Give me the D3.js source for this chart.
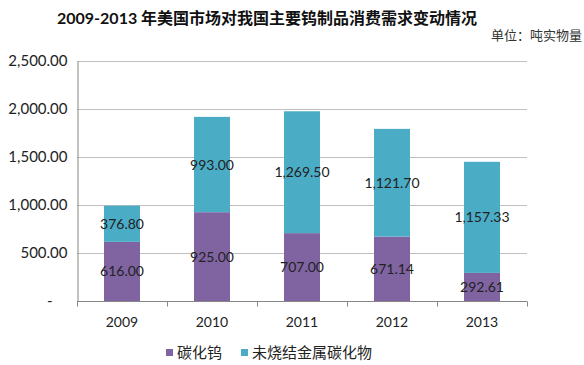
<!DOCTYPE html>
<html>
<head>
<meta charset="utf-8">
<script src="https://cdn.jsdelivr.net/npm/d3@7"></script>
<style>
  body { margin: 0; background: #fff; }
  text { font-family: Lato, "Noto Sans CJK SC", sans-serif; }
</style>
</head>
<body>
<div id="container"></div>
<script>
/* CONSTANTS AND GLOBALS */
const width = 584,
      height = 365,
      margin = {top: 61, bottom: 64, left: 77, right: 57};

// data
const years = ["2009", "2010", "2011", "2012", "2013"];
const tungstenCarbide = [616.00, 925.00, 707.00, 671.14, 292.61];
const unsinteredCarbide = [376.80, 993.00, 1269.50, 1121.70, 1157.33];
const seriesNames = ["碳化钨", "未烧结金属碳化物"];
const yTicks = [0, 500, 1000, 1500, 2000, 2500];
const colors = ["#8064A2", "#4BACC6"];

const svg = d3.select("#container")
  .append("svg")
  .attr("width", width)
  .attr("height", height);

// + SCALES
const xScale = d3.scaleBand()
  .domain(years)
  .range([margin.left, width - margin.right])
  .paddingInner(0.6)
  .paddingOuter(0.3);

const yScale = d3.scaleLinear()
  .domain([0, 2500])
  .range([height - margin.bottom, margin.top]);

// gridlines
svg.append("g")
  .selectAll("line")
  .data(yTicks.filter(d => d > 0))
  .join("line")
  .attr("x1", margin.left)
  .attr("x2", width - margin.right)
  .attr("y1", d => yScale(d) + 0.5)
  .attr("y2", d => yScale(d) + 0.5)
  .attr("stroke", "#bfbfbf");

// stacked data
const rows = years.map((y, i) => ({year: y, a: tungstenCarbide[i], b: unsinteredCarbide[i]}));
const stacked = d3.stack().keys(["a", "b"])(rows);

const layer = svg.append("g")
  .selectAll("g")
  .data(stacked)
  .join("g")
  .attr("fill", (d, i) => colors[i]);

layer.selectAll("rect")
  .data(d => d)
  .join("rect")
  .attr("x", d => xScale(d.data.year))
  .attr("width", xScale.bandwidth())
  .attr("y", d => yScale(d[1]))
  .attr("height", d => yScale(d[0]) - yScale(d[1]));

// data labels
const fmt = d3.format(",.2f");
svg.append("g")
  .selectAll("g")
  .data(stacked)
  .join("g")
  .selectAll("text")
  .data(d => d.map(v => ({v, key: d.key})))
  .join("text")
  .attr("x", d => xScale(d.v.data.year) + xScale.bandwidth() / 2)
  .attr("y", d => (yScale(d.v[0]) + yScale(d.v[1])) / 2 + 5)
  .attr("text-anchor", "middle")
  .attr("font-size", 14)
  .attr("fill", "#222")
  .text(d => fmt(d.v.data[d.key]));

// + AXES
const xAxis = d3.axisBottom(d3.scalePoint().domain(d3.range(6)).range([margin.left, width - margin.right]))
  .tickSize(5)
  .tickFormat("");

svg.append("g")
  .attr("transform", `translate(0, ${height - margin.bottom + 0.5})`)
  .call(xAxis)
  .call(g => g.select(".domain").attr("stroke", "#868686").attr("d", `M${margin.left},0H${width - margin.right}`))
  .call(g => g.selectAll(".tick line").attr("stroke", "#868686"));

svg.append("g")
  .selectAll("text")
  .data(years)
  .join("text")
  .attr("x", d => xScale(d) + xScale.bandwidth() / 2)
  .attr("y", height - margin.bottom + 26)
  .attr("text-anchor", "middle")
  .attr("font-size", 14)
  .attr("fill", "#222")
  .text(d => d);

const yAxis = d3.axisLeft(yScale)
  .tickValues(yTicks)
  .tickSize(0)
  .tickPadding(10)
  .tickFormat(d => d === 0 ? "-" : fmt(d));

svg.append("g")
  .attr("transform", `translate(${margin.left + 0.5}, 0)`)
  .call(yAxis)
  .call(g => g.select(".domain").attr("stroke", "#868686"))
  .call(g => g.selectAll(".tick text")
    .attr("font-size", 15)
    .attr("fill", "#222")
    .attr("font-family", "Lato, sans-serif")
    .attr("dx", d => d === 0 ? -15 : 0));

// title and unit
svg.append("text")
  .attr("x", 57)
  .attr("y", 24)
  .attr("font-size", 16)
  .attr("font-weight", "bold")
  .attr("font-family", "'Noto Sans CJK SC', sans-serif")
  .attr("fill", "#111")
  .text("2009-2013 年美国市场对我国主要钨制品消费需求变动情况");

svg.append("text")
  .attr("x", 582)
  .attr("y", 40)
  .attr("text-anchor", "end")
  .attr("font-size", 13)
  .attr("font-family", "'Noto Sans CJK SC', sans-serif")
  .attr("fill", "#333")
  .text("单位：吨实物量");

// legend
const legendX = [166, 241];
const legend = svg.append("g")
  .selectAll("g")
  .data(seriesNames)
  .join("g")
  .attr("transform", (d, i) => `translate(${legendX[i]}, 349)`);

legend.append("rect")
  .attr("width", 7)
  .attr("height", 7)
  .attr("fill", (d, i) => colors[i]);

legend.append("text")
  .attr("x", 11)
  .attr("y", 9)
  .attr("font-size", 15)
  .attr("font-family", "'Noto Sans CJK SC', sans-serif")
  .attr("fill", "#222")
  .text(d => d);
</script>
</body>
</html>
